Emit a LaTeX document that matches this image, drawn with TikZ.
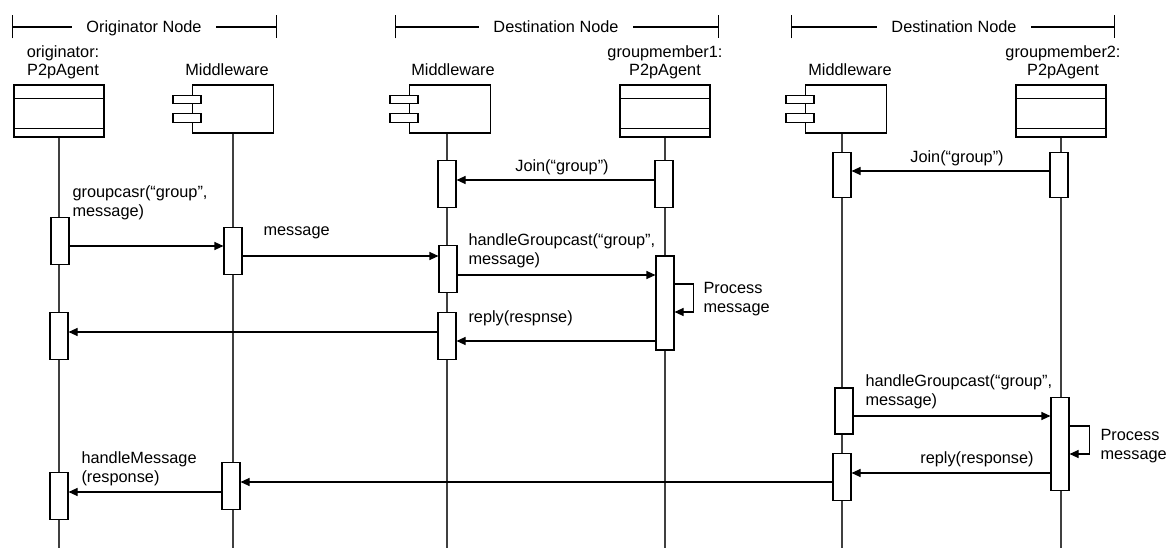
\documentclass[tikz,border=0pt]{standalone}
\usepackage{fontspec}
\setmainfont{Liberation Sans}
\usetikzlibrary{arrows.meta,calc}

\begin{document}
\begin{tikzpicture}[x=1pt, y=-1pt, >={Triangle[length=9pt,width=8pt]}, line width=1.1pt,
  font=\fontsize{16.3}{18.5}\selectfont,
  agent/.style={draw, minimum width=90pt, minimum height=52pt, inner sep=0pt},
  ware/.style={draw, minimum width=81pt, minimum height=48pt, inner sep=0pt},
  bar/.style={draw, fill=white, minimum width=18pt, minimum height=47pt, inner sep=0pt},
  life/.style={black!75},
  txt/.style={inner sep=0pt, align=left},
  group/.style={inner xsep=14pt, inner ysep=0pt, anchor=base}]

  \useasboundingbox (0,0) rectangle (1168,551);
  \coordinate (end) at (0,548);

  % node groups
  \node[group] (og) at (144,33) {Originator Node};
  \node[group] (dg1) at (556,33) {Destination Node};
  \node[group] (dg2) at (954,33) {Destination Node};
  \coordinate (ogl) at (12,27);   \coordinate (ogr) at (277,27);
  \coordinate (dg1l) at (395,27); \coordinate (dg1r) at (719,27);
  \coordinate (dg2l) at (791,27); \coordinate (dg2r) at (1115,27);
  \draw[{Bar[width=23pt]}-] (ogl) -- (og.west |- ogl);
  \draw[-{Bar[width=23pt]}] (og.east |- ogr) -- (ogr);
  \draw[{Bar[width=23pt]}-] (dg1l) -- (dg1.west |- dg1l);
  \draw[-{Bar[width=23pt]}] (dg1.east |- dg1r) -- (dg1r);
  \draw[{Bar[width=23pt]}-] (dg2l) -- (dg2.west |- dg2l);
  \draw[-{Bar[width=23pt]}] (dg2.east |- dg2r) -- (dg2r);

  % lifeline heads (base of a two-line node = its last line)
  \node[txt, align=center, anchor=base] (oal) at (63,76) {originator:\\P2pAgent};
  \node[txt, anchor=base] (mal) at (227,76) {Middleware};
  \node[txt, anchor=base] (mbl) at (453,76) {Middleware};
  \node[txt, align=center, anchor=base] (gbl) at (665,76) {groupmember1:\\P2pAgent};
  \node[txt, anchor=base] (mcl) at (850,76) {Middleware};
  \node[txt, align=center, anchor=base] (gcl) at (1063,76) {groupmember2:\\P2pAgent};

  \node[agent] (oa) at (59,111) {};
  \node[agent] (gb) at (665,111) {};
  \node[agent] (gc) at (1061,111) {};
  \foreach \a in {oa,gb,gc} {
    \draw ($(\a.north west)+(0,14)$) -- ($(\a.north east)+(0,14)$);
    \draw ($(\a.south west)+(0,-9)$) -- ($(\a.south east)+(0,-9)$);
  }
  \node[ware] (ma) at (233,109) {};
  \node[ware] (mb) at (450,109) {};
  \node[ware] (mc) at (846,109) {};
  \foreach \m in {ma,mb,mc} {
    \draw[fill=white] ($(\m.north west)+(-19,11)$) rectangle ++(28,8);
    \draw[fill=white] ($(\m.north west)+(-19,29)$) rectangle ++(28,9);
  }

  % lifelines
  \draw[life] (oa.south) -- (oa.south |- end);
  \draw[life] (ma.south) -- (ma.south |- end);
  \draw[life] ($(mb.south)+(-3,0)$) -- ($(mb.south |- end)+(-3,0)$);
  \draw[life] (gb.south) -- (gb.south |- end);
  \draw[life] ($(mc.south)+(-4,0)$) -- ($(mc.south |- end)+(-4,0)$);
  \draw[life] (gc.south) -- (gc.south |- end);

  % activations
  \node[bar] (oa1) at (60,241) {};
  \node[bar] (oa2) at (59,336) {};
  \node[bar] (oa3) at (59,496) {};
  \node[bar] (ma1) at (233,251) {};
  \node[bar] (ma2) at (231,486) {};
  \node[bar] (mb0) at (447,184) {};
  \node[bar] (mb1) at (448,269) {};
  \node[bar] (mb2) at (447,336) {};
  \node[bar] (gb0) at (664,184) {};
  \node[bar, minimum height=94pt] (gb1) at (665,303) {};
  \node[bar, minimum height=45pt] (mc0) at (842,175) {};
  \node[bar, minimum height=45pt] (gc0) at (1059,175) {};
  \node[bar, minimum height=46pt] (mc1) at (844,411) {};
  \node[bar, minimum height=93pt] (gc1) at (1060,444) {};
  \node[bar] (mc2) at (842,477) {};

  % messages
  \draw[->] (gb0.west |- 0,180) -- (mb0.east |- 0,180);
  \draw[->] (gc0.west |- 0,171) -- (mc0.east |- 0,171);
  \draw[->] (oa1.east |- 0,246) -- (ma1.west |- 0,246);
  \draw[->] (ma1.east |- 0,256) -- (mb1.west |- 0,256);
  \draw[->] (mb1.east |- 0,275) -- (gb1.west |- 0,275);
  \draw[->] (gb1.east |- 0,284) -- ++(19,0) |- (gb1.east |- 0,312);
  \draw[->] (gb1.west |- 0,341) -- (mb2.east |- 0,341);
  \draw[->] (mb2.west |- 0,332) -- (oa2.east |- 0,332);
  \draw[->] (mc1.east |- 0,416) -- (gc1.west |- 0,416);
  \draw[->] (gc1.east |- 0,426) -- ++(20,0) |- (gc1.east |- 0,454);
  \draw[->] (gc1.west |- 0,473) -- (mc2.east |- 0,473);
  \draw[->] (mc2.west |- 0,482) -- (ma2.east |- 0,482);
  \draw[->] (ma2.west |- 0,492) -- (oa3.east |- 0,492);

  % message labels
  \node[txt, anchor=base] (j1) at (562,171) {Join(“group”)};
  \node[txt, anchor=base] (j2) at (957,162) {Join(“group”)};
  \node[txt, anchor=base west] (gcast) at (72,216) {groupcasr(“group”,\\message)};
  \node[txt, anchor=base west] (msg) at (263,235) {message};
  \node[txt, anchor=base west] (hg1) at (468,264) {handleGroupcast(“group”,\\message)};
  \node[txt, anchor=base west] (pm1) at (703,312) {Process\\message};
  \node[txt, anchor=base west] (rp1) at (468,322) {reply(respnse)};
  \node[txt, anchor=base west] (hg2) at (865,405) {handleGroupcast(“group”,\\message)};
  \node[txt, anchor=base west] (pm2) at (1100,459) {Process\\message};
  \node[txt, anchor=base] (rp2) at (977,463) {reply(response)};
  \node[txt, anchor=base west] (hm) at (81,482) {handleMessage\\(response)};
\end{tikzpicture}
\end{document}
